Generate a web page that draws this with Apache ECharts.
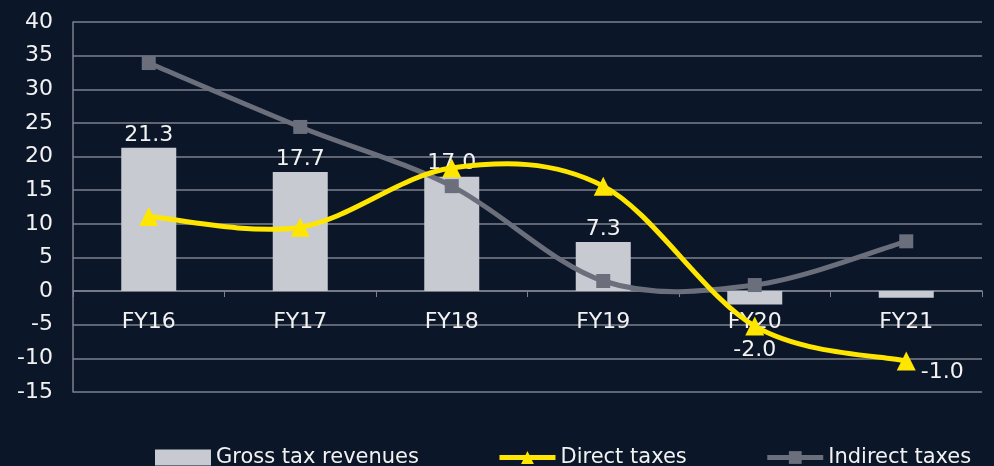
<!DOCTYPE html>
<html>
<head>
<meta charset="utf-8">
<script src="https://cdn.jsdelivr.net/npm/echarts@6/dist/echarts.min.js"></script>
<style>
  html, body { margin: 0; padding: 0; background: #0b1628; }
  #chart { width: 994px; height: 466px; }
</style>
</head>
<body>
<div id="chart"></div>
<script>
// categories and values
var years = ['FY16', 'FY17', 'FY18', 'FY19', 'FY20', 'FY21'];
var grossTax = [21.3, 17.7, 17.0, 7.3, -2.0, -1.0];
var directTax = [11.1, 9.5, 18.3, 15.6, -5.2, -10.4];
var indirectTax = [33.9, 24.4, 15.6, 1.5, 0.9, 7.4];

var font = 'DejaVu Sans';
var textColor = '#f2f2f2';
var yellow = '#ffe600';
var slate = '#6b6f7c';

// bar labels: positive above, negative ones pushed down
var barData = grossTax.map(function (v, i) {
  var item = { value: v };
  if (i === 4) {
    item.label = { position: 'bottom', offset: [0, 33] };
  } else if (i === 5) {
    item.label = { position: 'bottom', offset: [36, 61] };
  }
  return item;
});

// excel-like smoothed curve (catmull-rom through the data points)
function smoothCurve(values, color) {
  return {
    type: 'custom',
    silent: true,
    data: values.map(function (v, i) { return [i, v]; }),
    renderItem: function (params, api) {
      if (params.dataIndex !== 0) return null;
      var pts = values.map(function (v, i) { return api.coord([i, v]); });
      var d = 'M' + pts[0][0] + ' ' + pts[0][1];
      for (var i = 0; i < pts.length - 1; i++) {
        var p0 = pts[i - 1] || pts[i];
        var p1 = pts[i];
        var p2 = pts[i + 1];
        var p3 = pts[i + 2] || pts[i + 1];
        var c1x = p1[0] + (p2[0] - p0[0]) / 6, c1y = p1[1] + (p2[1] - p0[1]) / 6;
        var c2x = p2[0] - (p3[0] - p1[0]) / 6, c2y = p2[1] - (p3[1] - p1[1]) / 6;
        d += ' C' + c1x + ' ' + c1y + ' ' + c2x + ' ' + c2y + ' ' + p2[0] + ' ' + p2[1];
      }
      return {
        type: 'path',
        shape: { pathData: d },
        style: { fill: null, stroke: color, lineWidth: 5, lineJoin: 'round' }
      };
    }
  };
}

var chart = echarts.init(document.getElementById('chart'));

var indirectCurve = smoothCurve(indirectTax, slate);
indirectCurve.z = 2;
var directCurve = smoothCurve(directTax, yellow);
directCurve.z = 3;

var option = {
  backgroundColor: '#0b1628',
  animation: false,
  grid: { left: 73, right: 12, top: 22, bottom: 74 },
  legend: {
    top: 442,
    left: 150,
    itemGap: 78,
    itemWidth: 56,
    itemHeight: 16,
    textStyle: { color: textColor, fontFamily: font, fontSize: 21 },
    data: [
      { name: 'Gross tax revenues', icon: 'rect' },
      { name: 'Direct taxes', lineStyle: { color: yellow, width: 5 } },
      { name: 'Indirect taxes', lineStyle: { color: slate, width: 5 } }
    ]
  },
  xAxis: {
    type: 'category',
    data: years,
    offset: -101,
    axisLine: { onZero: false, lineStyle: { color: '#7c818d', width: 1.5 } },
    axisTick: { show: true, length: 6, lineStyle: { color: '#7c818d' } },
    axisLabel: { color: textColor, fontFamily: font, fontSize: 22, margin: 20 }
  },
  yAxis: {
    type: 'value',
    min: -15,
    max: 40,
    interval: 5,
    axisLine: { show: true, lineStyle: { color: '#7c818d', width: 1.5 } },
    axisTick: { show: false },
    splitLine: { lineStyle: { color: '#7c818d', width: 1.5 } },
    axisLabel: { color: textColor, fontFamily: font, fontSize: 22, margin: 20 }
  },
  series: [
    {
      name: 'Gross tax revenues',
      type: 'bar',
      barWidth: 55,
      data: barData,
      itemStyle: { color: '#c8cad2' },
      label: {
        show: true,
        position: 'top',
        distance: 2,
        color: textColor,
        fontFamily: font,
        fontSize: 22,
        formatter: function (p) { return p.value.toFixed(1); }
      },
      z: 1
    },
    indirectCurve,
    directCurve,
    {
      name: 'Indirect taxes',
      type: 'line',
      data: indirectTax,
      symbol: 'rect',
      symbolSize: 14,
      lineStyle: { width: 0 },
      itemStyle: { color: slate },
      z: 4
    },
    {
      name: 'Direct taxes',
      type: 'line',
      data: directTax,
      symbol: 'triangle',
      symbolSize: 19,
      lineStyle: { width: 0 },
      itemStyle: { color: yellow },
      z: 5
    }
  ]
};

chart.setOption(option);
</script>
</body>
</html>
